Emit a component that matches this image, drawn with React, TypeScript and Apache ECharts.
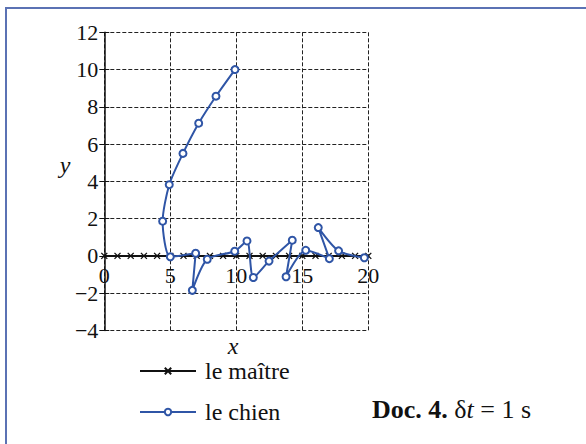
import React, { useEffect, useRef } from "react";
import * as echarts from "echarts";

const masterX = [0, 1, 2, 3, 4, 5, 6, 7, 8, 9, 10, 11, 12, 13, 14, 15, 16, 17, 18, 19, 20];
const masterY = [0, 0, 0, 0, 0, 0, 0, 0, 0, 0, 0, 0, 0, 0, 0, 0, 0, 0, 0, 0, 0];

const dogX = [9.9, 8.46, 7.15, 5.96, 4.92, 4.42, 5.0, 6.92, 6.67, 7.8, 9.88, 10.81, 11.29, 12.48, 14.24, 13.77, 15.26, 17.05, 16.21, 17.75, 19.7];
const dogY = [10.0, 8.57, 7.12, 5.5, 3.82, 1.86, -0.05, 0.14, -1.85, -0.18, 0.25, 0.8, -1.16, -0.28, 0.84, -1.12, 0.3, -0.15, 1.52, 0.27, -0.1];

const xTicks = [0, 5, 10, 15, 20];
const yTicks = [-4, -2, 0, 2, 4, 6, 8, 10, 12];

const FONT = "Liberation Serif";
const BLUE = "#2f55a6";

const GRID_TOP = 32.3;
const GRID_BOTTOM = 113.6;
const PLOT_H = 444 - GRID_TOP - GRID_BOTTOM;

export default function App() {
  const ref = useRef<HTMLDivElement>(null);
  useEffect(() => {
    if (!ref.current) return;
    const chart = echarts.init(ref.current, null, { renderer: "svg" });
    const crossPath = "path://M0,0L10,10M10,0L0,10";
    const yMin = yTicks[0];
    const yMax = yTicks[yTicks.length - 1];
    // shift x axis from bottom edge up to y = 0
    const zeroOffset = -((0 - yMin) / (yMax - yMin)) * PLOT_H;
    chart.setOption({
      animation: false,
      backgroundColor: "#ffffff",
      grid: { left: 104.3, right: 217.7, top: GRID_TOP, bottom: GRID_BOTTOM },
      xAxis: {
        type: "value",
        min: xTicks[0],
        max: xTicks[xTicks.length - 1],
        interval: 5,
        position: "bottom",
        offset: zeroOffset,
        axisLine: { onZero: false, lineStyle: { color: "#111", width: 2, type: "solid" } },
        axisTick: { show: false },
        axisLabel: { color: "#111", fontFamily: FONT, fontSize: 22, margin: 9 },
        splitLine: { show: true, lineStyle: { color: "#222", type: "dashed", width: 1 } },
      },
      yAxis: [
        {
          type: "value",
          min: yMin,
          max: yMax,
          interval: 2,
          axisLine: { show: true, onZero: false, lineStyle: { color: "#111", width: 1.5, type: "solid" } },
          axisTick: { show: true, length: 5, lineStyle: { color: "#111", width: 1, type: "solid" } },
          axisLabel: {
            color: "#111",
            fontFamily: FONT,
            fontSize: 22,
            margin: 6,
            formatter: (v: number) => (v < 0 ? "\u2212" + Math.abs(v) : String(v)),
          },
          splitLine: { show: true, lineStyle: { color: "#222", type: "dashed", width: 1 } },
        },
        {
          type: "value",
          position: "left",
          min: yMin,
          max: yMax,
          interval: 2,
          axisLine: { show: false },
          axisTick: { show: true, inside: true, length: 5, lineStyle: { color: "#111", width: 1, type: "solid" } },
          axisLabel: { show: false },
          splitLine: { show: false },
        },
      ],
      legend: {
        orient: "vertical",
        left: 134,
        top: 354,
        itemWidth: 56,
        itemHeight: 8,
        itemGap: 17,
        textStyle: { fontFamily: FONT, fontSize: 24, color: "#111", padding: [0, 0, 0, 4] },
        data: ["le maître", "le chien"],
      },
      series: [
        {
          name: "le maître",
          type: "line",
          data: masterX.map((x, i) => [x, masterY[i]]),
          symbol: crossPath,
          symbolSize: 6,
          showAllSymbol: true,
          lineStyle: { color: "#111", width: 2, type: "solid" },
          itemStyle: { color: "#111", borderColor: "#111", borderWidth: 1.3 },
          z: 3,
        },
        {
          name: "le chien",
          type: "line",
          data: dogX.map((x, i) => [x, dogY[i]]),
          smooth: 0.25,
          symbol: "emptyCircle",
          symbolSize: 7,
          showAllSymbol: true,
          lineStyle: { color: BLUE, width: 2, type: "solid" },
          itemStyle: { color: BLUE, borderColor: BLUE, borderWidth: 1.3 },
          z: 4,
        },
      ],
      graphic: [
        {
          type: "polyline",
          shape: { points: [[6, 444], [6, 8], [586, 8]] },
          style: { stroke: "#5b72b4", lineWidth: 2, fill: "none" },
        },
        {
          type: "text",
          x: 65,
          y: 165,
          style: {
            text: "y",
            font: `italic 24px "${FONT}"`,
            fill: "#111",
            align: "center",
            verticalAlign: "middle",
          },
        },
        {
          type: "text",
          x: 233,
          y: 346,
          style: {
            text: "x",
            font: `italic 24px "${FONT}"`,
            fill: "#111",
            align: "center",
            verticalAlign: "middle",
          },
        },
        {
          type: "text",
          x: 372,
          y: 409,
          style: {
            text: "{b|Doc. 4.} δ{i|t} = 1 s",
            font: `26px "${FONT}"`,
            fill: "#111",
            verticalAlign: "middle",
            rich: {
              b: { fontFamily: FONT, fontSize: 26, fontWeight: "bold", fill: "#111" },
              i: { fontFamily: FONT, fontSize: 26, fontStyle: "italic", fill: "#111" },
            },
          },
        },
      ],
    });
    return () => chart.dispose();
  }, []);
  return (
    <div
      ref={ref}
      style={{ position: "fixed", left: 0, top: 0, width: 586, height: 444 }}
    />
  );
}
